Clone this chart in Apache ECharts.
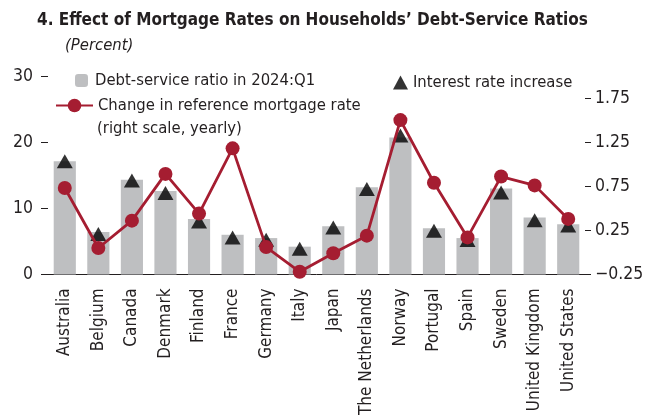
<!DOCTYPE html>
<html><head><meta charset="utf-8">
<script src="https://cdn.jsdelivr.net/npm/echarts@6/dist/echarts.min.js"></script>
<style>html,body{margin:0;padding:0;background:#fff}#c{width:653px;height:418px}</style>
</head><body><div id="c"></div>
<script>
const categories = ['Australia','Belgium','Canada','Denmark','Finland','France','Germany','Italy','Japan','The Netherlands','Norway','Portugal','Spain','Sweden','United Kingdom','United States'];
const debtServiceRatio = [17.1,6.4,14.3,12.6,8.4,6.0,5.5,4.2,7.3,13.2,20.7,7.0,5.5,13.0,8.6,7.6];
const interestRateIncrease = [17.1,6.1,14.2,12.3,8.0,5.6,5.25,3.9,7.1,12.9,21.0,6.6,5.2,12.4,8.2,7.4];
const mortgageRateChange = [0.73,0.05,0.36,0.89,0.44,1.18,0.06,-0.22,-0.01,0.19,1.50,0.79,0.17,0.86,0.76,0.38];
const leftTicks = [0,10,20,30];
const rightTicks = [-0.25,0.25,0.75,1.25,1.75];
const rightTickLabels = ['−0.25','0.25','0.75','1.25','1.75'];

const FONT = "'Liberation Sans Narrow','DejaVu Sans Condensed',sans-serif";
const TXT = '#231f20';
const RED = '#a51d31';
const GRAY = '#bebfc1';
const NAME_BAR = 'Debt-service ratio in 2024:Q1';
const NAME_LINE = 'Change in reference mortgage rate (right scale, yearly)';
const LINE_LEG_1 = 'Change in reference mortgage rate';
const LINE_LEG_2 = '(right scale, yearly)';
const NAME_TRI = 'Interest rate increase';

const chart = echarts.init(document.getElementById('c'));
chart.setOption({
  animation: false,
  textStyle: {fontFamily: FONT},
  title: [
    {text: '4. Effect of Mortgage Rates on Households’ Debt-Service Ratios', left: 32, top: 7,
     textStyle: {fontFamily: FONT, fontWeight: 'bold', fontSize: 17, color: TXT}},
    {text: '(Percent)', left: 60, top: 32,
     textStyle: {fontFamily: FONT, fontStyle: 'italic', fontWeight: 'normal', fontSize: 16.5, color: TXT}}
  ],
  legend: [
    {data: [NAME_BAR], left: 75, top: 72, padding: 0, itemWidth: 13, itemHeight: 13,
     textStyle: {fontFamily: FONT, fontSize: 16.5, color: TXT, padding: [0,0,0,2]}},
    {data: [NAME_LINE], left: 55, top: 97, padding: 0, itemWidth: 37, itemHeight: 17,
     formatter: () => LINE_LEG_1,
     textStyle: {fontFamily: FONT, fontSize: 16.5, color: TXT}},
    {data: [{name: NAME_TRI, icon: 'triangle'}], left: 393, top: 74, padding: 0, itemWidth: 15, itemHeight: 14,
     textStyle: {fontFamily: FONT, fontSize: 16.5, color: TXT}}
  ],
  graphic: [
    {type: 'text', left: 97, top: 120,
     style: {text: LINE_LEG_2, fontFamily: FONT, fontSize: 16.5, fill: TXT}}
  ],
  grid: {left: 48, right: 68, top: 76, bottom: 140, containLabel: false},
  xAxis: {
    type: 'category', data: categories,
    axisLine: {lineStyle: {color: TXT, width: 1}},
    axisTick: {inside: true, length: 6, lineStyle: {color: TXT}},
    axisLabel: {rotate: 90, fontSize: 17, color: TXT, fontFamily: FONT, margin: 14, interval: 0}
  },
  yAxis: [
    {type: 'value', min: 0, max: 30, interval: 10, position: 'left',
     axisLine: {show: false}, splitLine: {show: false},
     axisTick: {show: true, length: 7, lineStyle: {color: TXT}},
     axisLabel: {fontSize: 17.5, color: TXT, fontFamily: FONT, margin: 15,
       formatter: v => leftTicks.indexOf(v) >= 0 ? String(v) : ''}},
    {type: 'value', min: -0.25, max: 2.0, position: 'right',
     axisLine: {show: false}, splitLine: {show: false},
     axisTick: {show: true, length: 6, lineStyle: {color: TXT}, customValues: rightTicks},
     axisLabel: {fontSize: 17.5, color: TXT, fontFamily: FONT, margin: 10, customValues: rightTicks,
       formatter: v => { const i = rightTicks.findIndex(t => Math.abs(t - v) < 1e-6); return i >= 0 ? rightTickLabels[i] : ''; }}}
  ],
  series: [
    {name: NAME_BAR, type: 'bar', data: debtServiceRatio, barWidth: '66%', yAxisIndex: 0,
     itemStyle: {color: GRAY}, z: 1},
    {name: NAME_TRI, type: 'scatter', data: interestRateIncrease, yAxisIndex: 0,
     symbol: 'triangle', symbolSize: [16, 14], itemStyle: {color: '#000'}, z: 3},
    {name: NAME_LINE, type: 'line', data: mortgageRateChange, yAxisIndex: 1,
     symbol: 'circle', symbolSize: 14, showAllSymbol: true,
     lineStyle: {color: RED, width: 2.8}, itemStyle: {color: RED}, z: 4}
  ]
});
</script></body></html>
